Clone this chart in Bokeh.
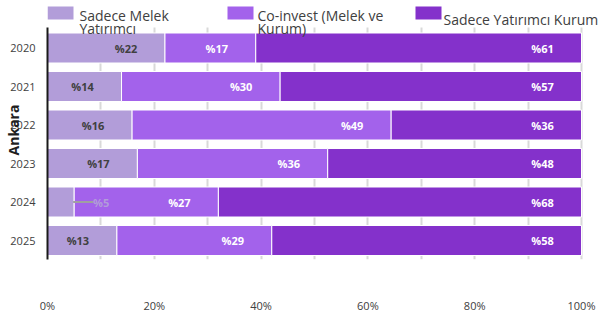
import numpy as np
from bokeh.plotting import figure
from bokeh.models import ColumnDataSource, Range1d, FixedTicker
from bokeh.core.properties import value
from bokeh.embed import file_html
from bokeh.resources import INLINE

# ---------------- data ----------------
years = ["2020", "2021", "2022", "2023", "2024", "2025"]
melek = [22, 14, 16, 17, 5, 13]          # Sadece Melek Yatırımcı
coinvest = [17, 30, 49, 36, 27, 29]      # Co-invest (Melek ve Kurum)
kurum = [61, 57, 36, 48, 68, 58]         # Sadece Yatırımcı Kurum
legend_lines = [["Sadece Melek", "Yatırımcı"],
                ["Co-invest (Melek ve", "Kurum)"],
                ["Sadece Yatırımcı Kurum"]]
x_ticks = [0, 20, 40, 60, 80, 100]
x_tick_labels = ["0%", "20%", "40%", "60%", "80%", "100%"]
grid_ticks = [10, 20, 30, 40, 50, 60, 70, 80, 90, 100]
y_title = "Ankara"

# ---------------- style ----------------
colors = ["#b29dd9", "#a362eb", "#8431cb"]
FONT = "Open Sans"
TXT = "#404040"
W, H = 601, 318
FL, FB = 47, 259            # frame left / bottom (canvas px), frame top = 0
X100 = 581                  # pixel where 100 % lies
FR = 600                    # frame right (room for the legend text)

ypos = [len(years) - 1 - k for k in range(len(years))]   # 2020 on top
series = np.array([melek, coinvest, kurum], dtype=float)
shares = series / series.sum(axis=0) * 100.0
ends = np.cumsum(shares, axis=0)
starts = ends - shares

pitch = 38.5
y_lo = -19 / pitch
y_hi = 240 / pitch
axis_top = 5 + 20.5 / pitch
x_hi = 100 * (FR - FL) / (X100 - FL)

p = figure(width=W, height=H,
           x_range=Range1d(0, x_hi), y_range=Range1d(y_lo, y_hi),
           output_backend="svg", toolbar_location=None,
           min_border_left=FL, min_border_right=W - FR,
           min_border_top=0, min_border_bottom=H - FB)
p.outline_line_color = None
p.background_fill_color = "white"
p.border_fill_color = "white"
# pixel ranges for the legend drawn inside the frame
p.extra_x_ranges = {"px": Range1d(FL, FR)}
p.extra_y_ranges = {"px": Range1d(FB, 0)}

for i in range(3):
    src = ColumnDataSource(dict(y=ypos, left=starts[i], right=ends[i]))
    p.hbar(y="y", left="left", right="right", height=30 / pitch, source=src,
           fill_color=colors[i], line_color="white", line_width=1)

# data labels
lx, ly, lt, lc, lo = [], [], [], [], []
lead = dict(x0=[], x1=[], y=[])
for i, vals in enumerate([melek, coinvest, kurum]):
    for j in range(len(years)):
        lx.append(ends[i, j])
        ly.append(ypos[j])
        lt.append(f"%{vals[j]}")
        if shares[i, j] < 8:
            lc.append(colors[i])
            lo.append(27)
            lead["x0"].append(ends[i, j] - 0.2)
            lead["x1"].append(ends[i, j] + 3.6)
            lead["y"].append(ypos[j])
        else:
            lc.append(TXT if i == 0 else "white")
            lo.append(-39)

p.segment(x0="x0", y0="y", x1="x1", y1="y", source=ColumnDataSource(lead),
          line_color="#a0a0a0", line_width=2)
p.text(x="x", y="y", text="t", x_offset="xo", text_color="c",
       source=ColumnDataSource(dict(x=lx, y=ly, t=lt, c=lc, xo=lo)),
       text_font=value(FONT), text_font_style="bold", text_font_size="11px",
       text_align="center", text_baseline="middle")

# grid
g = p.xgrid[0]
g.ticker = FixedTicker(ticks=grid_ticks)
g.grid_line_color = "#d9d9d9"
g.grid_line_width = 2
if "cross_bounds" in g.properties():
    g.cross_bounds = (y_lo, axis_top)
p.ygrid.grid_line_color = None

# x axis
xa = p.xaxis[0]
xa.ticker = FixedTicker(ticks=x_ticks)
xa.major_label_overrides = dict(zip(x_ticks, x_tick_labels))
xa.axis_line_color = None
xa.major_tick_line_color = None
xa.minor_tick_line_color = None
xa.major_tick_out = 0
xa.minor_tick_out = 0
xa.major_label_standoff = 38
xa.major_label_text_font = FONT
xa.major_label_text_font_size = "11px"
xa.major_label_text_color = TXT

# y axis
ya = p.yaxis[0]
ya.ticker = FixedTicker(ticks=ypos)
ya.major_label_overrides = dict(zip(ypos, years))
ya.bounds = (y_lo, axis_top)
ya.axis_line_color = "#1a1a1a"
ya.axis_line_width = 2
ya.major_tick_line_color = None
ya.minor_tick_line_color = None
ya.major_tick_out = 0
ya.minor_tick_out = 0
ya.major_label_standoff = 12
ya.major_label_text_font = FONT
ya.major_label_text_font_size = "11px"
ya.major_label_text_color = TXT
ya.axis_label = y_title
ya.axis_label_standoff = -16
ya.axis_label_text_font = FONT
ya.axis_label_text_font_style = "bold"
ya.axis_label_text_font_size = "14px"
ya.axis_label_text_color = "#1f1f1f"

# legend (drawn in pixel coordinates above the bars)
sq_left = [47, 227, 415]
txt_left = [79, 257, 443]
for i in range(3):
    p.quad(left=[sq_left[i]], right=[sq_left[i] + 26], top=[6], bottom=[19],
           x_range_name="px", y_range_name="px",
           fill_color=colors[i], line_color=None)
    lines = legend_lines[i]
    base = [15, 28] if len(lines) == 2 else [19]
    p.text(x=[txt_left[i]] * len(lines), y=base, text=lines,
           x_range_name="px", y_range_name="px",
           text_font=value(FONT), text_font_size="14px", text_color=TXT,
           text_align="left", text_baseline="alphabetic")

open("out.html", "w").write(file_html(p, INLINE))
